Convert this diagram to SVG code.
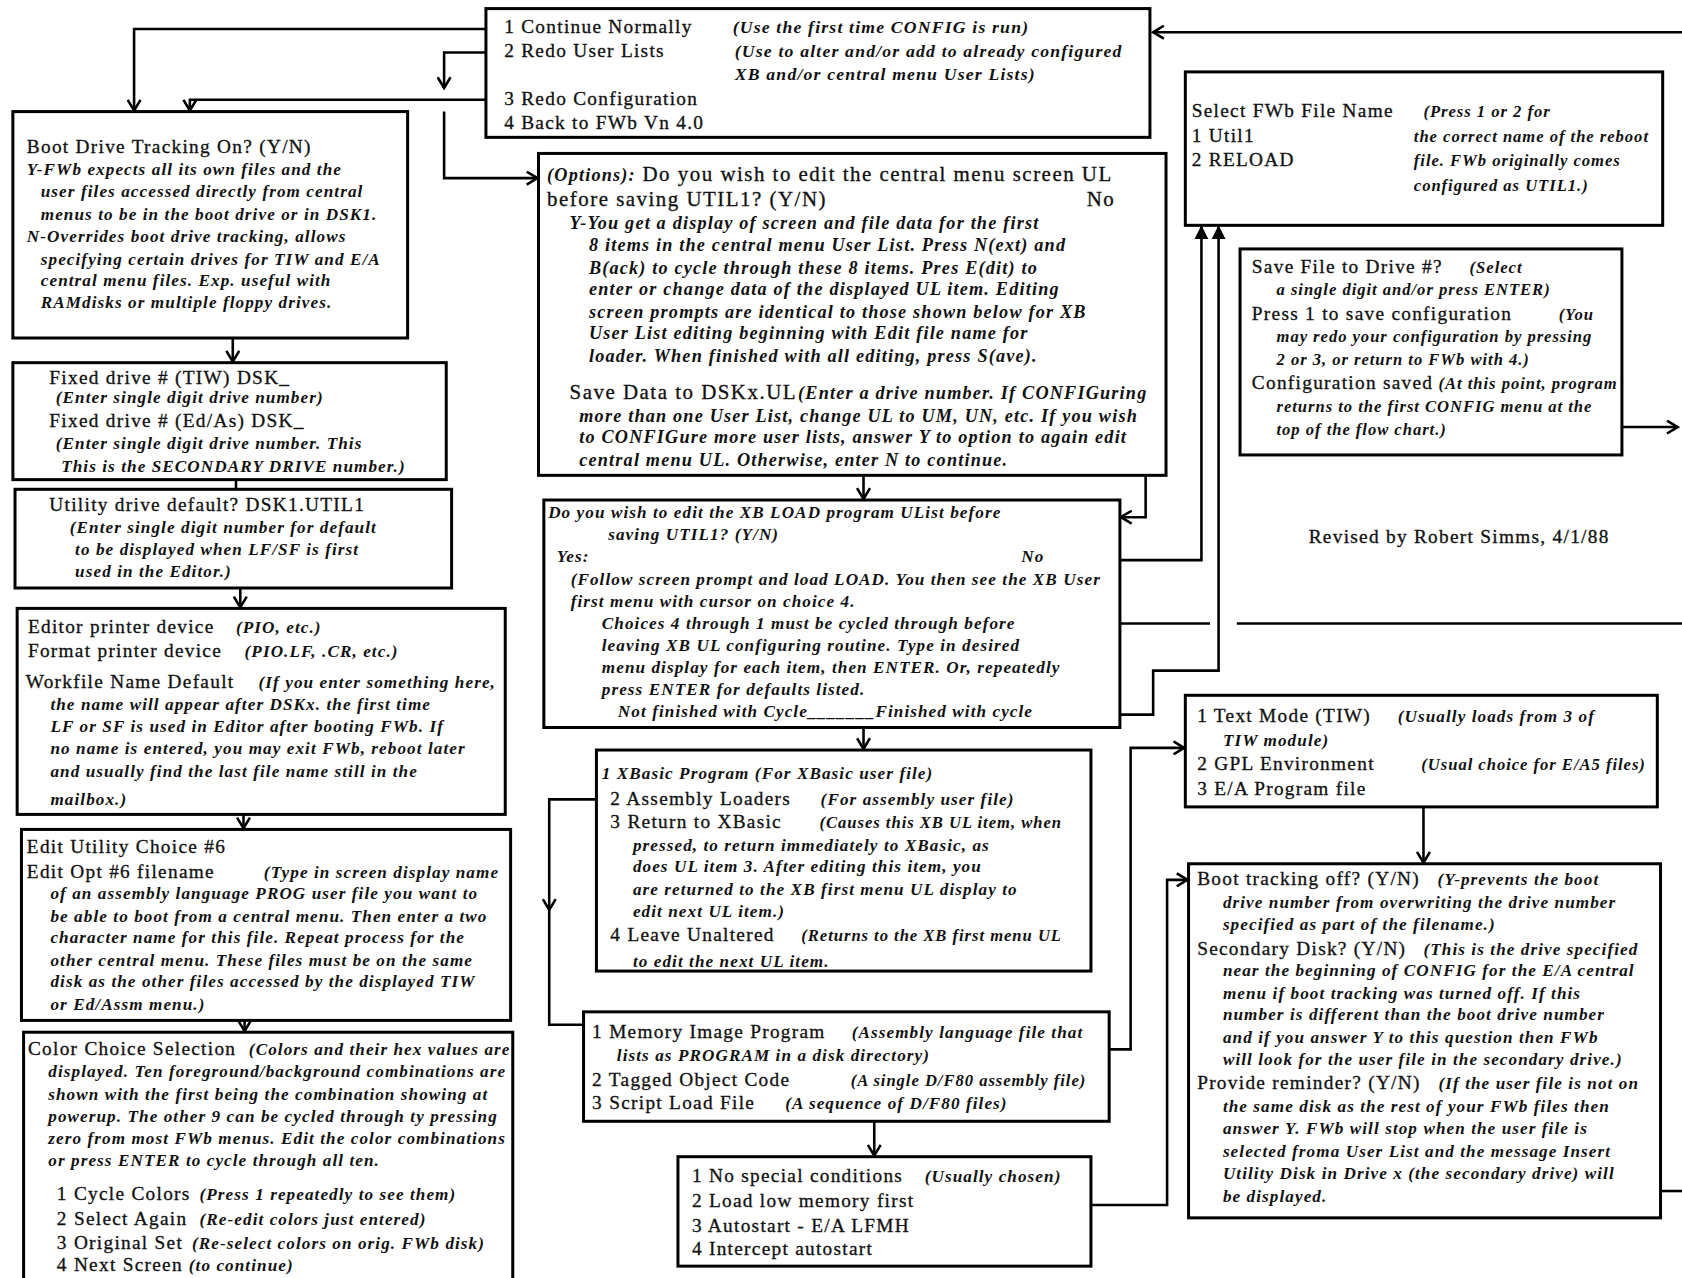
<svg xmlns="http://www.w3.org/2000/svg" width="1682" height="1278" viewBox="0 0 1682 1278">
<style>
.bx{fill:#fff;stroke:#000;stroke-width:2.8}
.c{fill:none;stroke:#000;stroke-width:2.4}
.r{font-family:"Liberation Serif","Times New Roman",serif;font-size:18px;letter-spacing:1.2px;fill:#111;stroke:#111;stroke-width:0.3}
.ro{font-family:"Liberation Serif","Times New Roman",serif;font-size:19.5px;letter-spacing:1.4px;fill:#111;stroke:#111;stroke-width:0.3}
.i{font-family:"Liberation Serif","Times New Roman",serif;font-style:italic;font-weight:bold;font-size:16px;letter-spacing:1px;fill:#111}
.i0{font-family:"Liberation Serif","Times New Roman",serif;font-style:italic;font-weight:bold;font-size:15.5px;letter-spacing:0.9px;fill:#111}
.it{font-family:"Liberation Serif","Times New Roman",serif;font-style:italic;font-weight:bold;font-size:16.5px;letter-spacing:1.1px;fill:#111}
.io{font-family:"Liberation Serif","Times New Roman",serif;font-style:italic;font-weight:bold;font-size:17px;letter-spacing:1.1px;fill:#111;stroke:none}
</style>
<defs>
<marker id="a" viewBox="-12 -7 14 14" markerWidth="14" markerHeight="14" refX="0" refY="0" orient="auto" markerUnits="userSpaceOnUse">
<path d="M-10,-6 L0,0 L-10,6" fill="none" stroke="#000" stroke-width="2.4"/>
</marker>
<marker id="af" viewBox="-12 -7 14 14" markerWidth="14" markerHeight="14" refX="0" refY="0" orient="auto" markerUnits="userSpaceOnUse">
<path d="M-12,-6 L0,0 L-12,6 Z" fill="#000" stroke="#000" stroke-width="1"/>
</marker>
</defs>
<rect width="1682" height="1278" fill="#fff"/>
<g transform="scale(1.0727,1.073)">
<g id="connectors">
<path class="c" d="M453,27 H125 V103" marker-end="url(#a)"/>
<path class="c" d="M453,49 H414 V82" marker-end="url(#a)"/>
<path class="c" d="M453,93 H177 V103" marker-end="url(#a)"/>
<path class="c" d="M414,104 V166 H501" marker-end="url(#a)"/>
<path class="c" d="M217,315 V337" marker-end="url(#a)"/>
<path class="c" d="M220,447 V456"/>
<path class="c" d="M224,548 V566" marker-end="url(#a)"/>
<path class="c" d="M227,759 V772" marker-end="url(#a)"/>
<path class="c" d="M228,951 V961" marker-end="url(#a)"/>
<path class="c" d="M805,443 V465" marker-end="url(#a)"/>
<path class="c" d="M1047,184 H1068 V482 H1045" marker-end="url(#a)"/>
<path class="c" d="M976,522 H1120 V211" marker-end="url(#af)"/>
<path class="c" d="M1012,666 H1075 V625 H1136 V211" marker-end="url(#af)"/>
<path class="c" d="M1568,581 H1153"/>
<path class="c" d="M1128,581 H1014" marker-end="url(#a)"/>
<path class="c" d="M805,678 V698" marker-end="url(#a)"/>
<path class="c" d="M556,745 H512 V848" marker-end="url(#a)"/>
<path class="c" d="M512,848 V955 H544"/>
<path class="c" d="M1024,978 H1054 V697 H1104" marker-end="url(#a)"/>
<path class="c" d="M815,1045 V1077" marker-end="url(#a)"/>
<path class="c" d="M1017,1123 H1088 V820 H1107" marker-end="url(#a)"/>
<path class="c" d="M1327,752 V804" marker-end="url(#a)"/>
<path class="c" d="M1548,1110 H1568"/>
<path class="c" d="M1503,398 H1564" marker-end="url(#a)"/>
<path class="c" d="M1568,30 H1075" marker-end="url(#a)"/>
</g>
<g id="n-top">
<rect class="bx" x="453" y="8" width="619" height="120"/>
<text class="r" x="470" y="31">1 Continue Normally</text>
<text class="it" x="683" y="31">(Use the first time CONFIG is run)</text>
<text class="r" x="470" y="53">2 Redo User Lists</text>
<text class="it" x="685" y="53">(Use to alter and/or add to already configured</text>
<text class="it" x="685" y="75">XB and/or central menu User Lists)</text>
<text class="r" x="470" y="98">3 Redo Configuration</text>
<text class="r" x="470" y="120">4 Back to FWb Vn 4.0</text>
</g>
<g id="n-boot">
<rect class="bx" x="12" y="104" width="368" height="211"/>
<text class="r" x="25" y="143">Boot Drive Tracking On? (Y/N)</text>
<text class="i" x="25" y="163">Y-FWb expects all its own files and the</text>
<text class="i" x="38" y="184">user files accessed directly from central</text>
<text class="i" x="38" y="205">menus to be in the boot drive or in DSK1.</text>
<text class="i" x="25" y="226">N-Overrides boot drive tracking, allows</text>
<text class="i" x="38" y="247">specifying certain drives for TIW and E/A</text>
<text class="i" x="38" y="267">central menu files. Exp. useful with</text>
<text class="i" x="38" y="287">RAMdisks or multiple floppy drives.</text>
</g>
<g id="n-fixed">
<rect class="bx" x="12" y="338" width="404" height="109"/>
<text class="r" x="46" y="358">Fixed drive # (TIW) DSK_</text>
<text class="i" x="52" y="376">(Enter single digit drive number)</text>
<text class="r" x="46" y="398">Fixed drive # (Ed/As) DSK_</text>
<text class="i" x="52" y="418">(Enter single digit drive number. This</text>
<text class="i" x="57" y="440">This is the SECONDARY DRIVE number.)</text>
</g>
<g id="n-utility">
<rect class="bx" x="14" y="456" width="407" height="92"/>
<text class="r" x="46" y="476">Utility drive default? DSK1.UTIL1</text>
<text class="i" x="65" y="497">(Enter single digit number for default</text>
<text class="i" x="70" y="517">to be displayed when LF/SF is first</text>
<text class="i" x="70" y="538">used in the Editor.)</text>
</g>
<g id="n-editor">
<rect class="bx" x="16" y="567" width="455" height="192"/>
<text class="r" x="26" y="590">Editor printer device</text>
<text class="i" x="220" y="590">(PIO, etc.)</text>
<text class="r" x="26" y="612">Format printer device</text>
<text class="i" x="228" y="612">(PIO.LF, .CR, etc.)</text>
<text class="r" x="24" y="641">Workfile Name Default</text>
<text class="i" x="241" y="641">(If you enter something here,</text>
<text class="i" x="47" y="662">the name will appear after DSKx. the first time</text>
<text class="i" x="47" y="682">LF or SF is used in Editor after booting FWb. If</text>
<text class="i" x="47" y="703">no name is entered, you may exit FWb, reboot later</text>
<text class="i" x="47" y="724">and usually find the last file name still in the</text>
<text class="i" x="47" y="750">mailbox.)</text>
</g>
<g id="n-editutil">
<rect class="bx" x="20" y="773" width="456" height="178"/>
<text class="r" x="25" y="795">Edit Utility Choice #6</text>
<text class="r" x="25" y="818">Edit Opt #6 filename</text>
<text class="i" x="246" y="818">(Type in screen display name</text>
<text class="i" x="47" y="838">of an assembly language PROG user file you want to</text>
<text class="i" x="47" y="859">be able to boot from a central menu. Then enter a two</text>
<text class="i" x="47" y="879">character name for this file. Repeat process for the</text>
<text class="i" x="47" y="900">other central menu. These files must be on the same</text>
<text class="i" x="47" y="920">disk as the other files accessed by the displayed TIW</text>
<text class="i" x="47" y="941">or Ed/Assm menu.)</text>
</g>
<g id="n-color">
<rect class="bx" x="22" y="962" width="456" height="250"/>
<text class="r" x="26" y="983">Color Choice Selection</text>
<text class="i" x="232" y="983">(Colors and their hex values are</text>
<text class="i" x="45" y="1004">displayed. Ten foreground/background combinations are</text>
<text class="i" x="45" y="1025">shown with the first being the combination showing at</text>
<text class="i" x="45" y="1046">powerup. The other 9 can be cycled through ty pressing</text>
<text class="i" x="45" y="1066">zero from most FWb menus. Edit the color combinations</text>
<text class="i" x="45" y="1087">or press ENTER to cycle through all ten.</text>
<text class="r" x="53" y="1118">1 Cycle Colors</text>
<text class="i" x="186" y="1118">(Press 1 repeatedly to see them)</text>
<text class="r" x="53" y="1142">2 Select Again</text>
<text class="i" x="186" y="1142">(Re-edit colors just entered)</text>
<text class="r" x="53" y="1164">3 Original Set</text>
<text class="i" x="179" y="1164">(Re-select colors on orig. FWb disk)</text>
<text class="r" x="53" y="1185">4 Next Screen</text>
<text class="i" x="176" y="1185">(to continue)</text>
</g>
<g id="n-options">
<rect class="bx" x="502" y="143" width="585" height="300"/>
<text class="ro" x="510" y="169"><tspan class="io">(Options):</tspan> Do you wish to edit the central menu screen UL</text>
<text class="ro" x="510" y="192">before saving UTIL1?  (Y/N)</text>
<text class="ro" x="1013" y="192">No</text>
<text class="io" x="531" y="213">Y-You get a display of screen and file data for the first</text>
<text class="io" x="549" y="234">8 items in the central menu User List. Press N(ext) and</text>
<text class="io" x="549" y="255">B(ack) to cycle through these 8 items. Pres E(dit) to</text>
<text class="io" x="549" y="275">enter or change data of the displayed UL item. Editing</text>
<text class="io" x="549" y="296">screen prompts are identical to those shown below for XB</text>
<text class="io" x="549" y="316">User List editing beginning with Edit file name for</text>
<text class="io" x="549" y="337">loader. When finished with all editing, press S(ave).</text>
<text class="ro" x="531" y="372">Save Data to DSKx.UL</text>
<text class="io" x="744" y="372">(Enter a drive number. If CONFIGuring</text>
<text class="io" x="540" y="393">more than one User List, change UL to UM, UN, etc. If you wish</text>
<text class="io" x="540" y="413">to CONFIGure more user lists, answer Y to option to again edit</text>
<text class="io" x="540" y="434">central menu UL. Otherwise, enter N to continue.</text>
</g>
<g id="n-xbload">
<rect class="bx" x="507" y="466" width="537" height="212"/>
<text class="i" x="511" y="483">Do you wish to edit the XB LOAD program UList before</text>
<text class="i" x="567" y="503">saving UTIL1? (Y/N)</text>
<text class="i" x="519" y="524">Yes:</text>
<text class="i" x="952" y="524">No</text>
<text class="i" x="532" y="545">(Follow screen prompt and load LOAD. You then see the XB User</text>
<text class="i" x="532" y="566">first menu with cursor on choice 4.</text>
<text class="i" x="561" y="586">Choices 4 through 1 must be cycled through before</text>
<text class="i" x="561" y="607">leaving XB UL configuring routine. Type in desired</text>
<text class="i" x="561" y="627">menu display for each item, then ENTER. Or, repeatedly</text>
<text class="i" x="561" y="648">press ENTER for defaults listed.</text>
<text class="i" x="576" y="668">Not finished with Cycle_______Finished with cycle</text>
</g>
<g id="n-xblist">
<rect class="bx" x="556" y="699" width="461" height="206"/>
<text class="i" x="561" y="726">1 XBasic Program (For XBasic user file)</text>
<text class="r" x="569" y="750">2 Assembly Loaders</text>
<text class="i" x="765" y="750">(For assembly user file)</text>
<text class="r" x="569" y="772">3 Return to XBasic</text>
<text class="i0" x="764" y="772">(Causes this XB UL item, when</text>
<text class="i" x="590" y="793">pressed, to return immediately to XBasic, as</text>
<text class="i" x="590" y="813">does UL item 3. After editing this item, you</text>
<text class="i" x="590" y="834">are returned to the XB first menu UL display to</text>
<text class="i" x="590" y="855">edit next UL item.)</text>
<text class="r" x="569" y="877">4 Leave Unaltered</text>
<text class="i0" x="747" y="877">(Returns to the XB first menu UL</text>
<text class="i" x="590" y="901">to edit the next UL item.</text>
</g>
<g id="n-memory">
<rect class="bx" x="544" y="943" width="490" height="102"/>
<text class="r" x="552" y="967">1 Memory Image Program</text>
<text class="i" x="794" y="967">(Assembly language file that</text>
<text class="i" x="575" y="989">lists as PROGRAM in a disk directory)</text>
<text class="r" x="552" y="1012">2 Tagged Object Code</text>
<text class="i0" x="793" y="1012">(A single D/F80 assembly file)</text>
<text class="r" x="552" y="1034">3 Script Load File</text>
<text class="i" x="732" y="1034">(A sequence of D/F80 files)</text>
</g>
<g id="n-nospecial">
<rect class="bx" x="632" y="1078" width="385" height="102"/>
<text class="r" x="645" y="1102">1 No special conditions</text>
<text class="i" x="862" y="1102">(Usually chosen)</text>
<text class="r" x="645" y="1125">2 Load low memory first</text>
<text class="r" x="645" y="1148">3 Autostart - E/A LFMH</text>
<text class="r" x="645" y="1170">4 Intercept autostart</text>
</g>
<g id="n-select">
<rect class="bx" x="1105" y="67" width="445" height="143"/>
<text class="r" x="1111" y="109">Select FWb File Name</text>
<text class="i0" x="1327" y="109">(Press 1 or 2 for</text>
<text class="r" x="1111" y="132">1 Util1</text>
<text class="i0" x="1318" y="132">the correct name of the reboot</text>
<text class="r" x="1111" y="155">2 RELOAD</text>
<text class="i0" x="1318" y="155">file. FWb originally comes</text>
<text class="i0" x="1318" y="178">configured as UTIL1.)</text>
</g>
<g id="n-save">
<rect class="bx" x="1156" y="232" width="356" height="192"/>
<text class="r" x="1167" y="254">Save File to Drive #?</text>
<text class="i0" x="1370" y="254">(Select</text>
<text class="i0" x="1190" y="275">a single digit and/or press ENTER)</text>
<text class="r" x="1167" y="298">Press  1  to save configuration</text>
<text class="i0" x="1453" y="298">(You</text>
<text class="i0" x="1190" y="319">may redo your configuration by pressing</text>
<text class="i0" x="1190" y="340">2 or 3, or return to FWb with 4.)</text>
<text class="r" x="1167" y="363">Configuration saved</text>
<text class="i0" x="1341" y="363">(At this point, program</text>
<text class="i0" x="1190" y="384">returns to the first CONFIG menu at the</text>
<text class="i0" x="1190" y="405">top of the flow chart.)</text>
</g>
<g id="n-revised">
<text class="r" x="1220" y="506">Revised by Robert Simms, 4/1/88</text>
</g>
<g id="n-textmode">
<rect class="bx" x="1105" y="648" width="440" height="104"/>
<text class="r" x="1116" y="673">1 Text Mode (TIW)</text>
<text class="i" x="1303" y="673">(Usually loads from 3 of</text>
<text class="i" x="1140" y="695">TIW module)</text>
<text class="r" x="1116" y="718">2 GPL Environment</text>
<text class="i0" x="1325" y="718">(Usual choice for E/A5 files)</text>
<text class="r" x="1116" y="741">3 E/A Program file</text>
</g>
<g id="n-boottrack">
<rect class="bx" x="1108" y="805" width="440" height="330"/>
<text class="r" x="1116" y="825">Boot tracking off? (Y/N)</text>
<text class="i" x="1340" y="825">(Y-prevents the boot</text>
<text class="i" x="1140" y="846">drive number from overwriting the drive number</text>
<text class="i" x="1140" y="867">specified as part of the filename.)</text>
<text class="r" x="1116" y="890">Secondary Disk? (Y/N)</text>
<text class="i" x="1327" y="890">(This is the drive specified</text>
<text class="i" x="1140" y="910">near the beginning of CONFIG for the E/A central</text>
<text class="i" x="1140" y="931">menu if boot tracking was turned off. If this</text>
<text class="i" x="1140" y="951">number is different than the boot drive number</text>
<text class="i" x="1140" y="972">and if you answer Y to this question then FWb</text>
<text class="i" x="1140" y="993">will look for the user file in the secondary drive.)</text>
<text class="r" x="1116" y="1015">Provide reminder? (Y/N)</text>
<text class="i" x="1341" y="1015">(If the user file is not on</text>
<text class="i" x="1140" y="1036">the same disk as the rest of your FWb files then</text>
<text class="i" x="1140" y="1057">answer Y. FWb will stop when the user file is</text>
<text class="i" x="1140" y="1078">selected froma User List and the message Insert</text>
<text class="i" x="1140" y="1099">Utility Disk in Drive x (the secondary drive) will</text>
<text class="i" x="1140" y="1120">be displayed.</text>
</g>
</g>
</svg>
